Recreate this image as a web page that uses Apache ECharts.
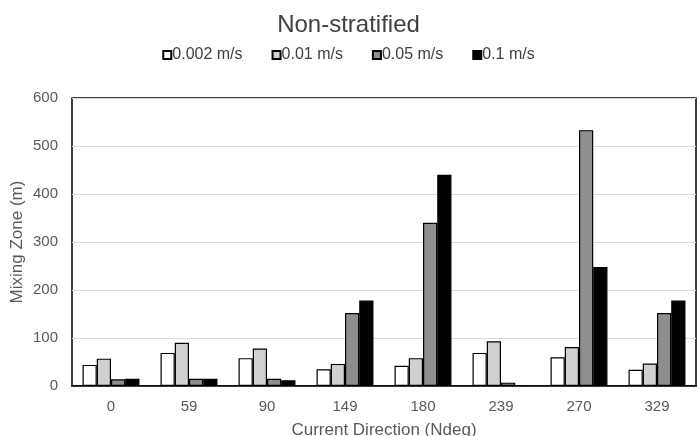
<!DOCTYPE html>
<html><head><meta charset="utf-8">
<script src="https://cdn.jsdelivr.net/npm/echarts@6/dist/echarts.min.js"></script>
<style>html,body{margin:0;padding:0;background:#fff}#c{width:697px;height:436px}</style>
</head><body><div id="c"></div>
<script>
const categories = ['0','59','90','149','180','239','270','329'];
const s002 = [44, 69, 58, 35, 42, 69, 60, 34];
const s01 = [57, 90, 78, 46, 58, 93, 81, 47];
const s05 = [14, 15, 15, 152, 340, 7, 533, 152];
const s1 = [15, 15, 12, 178, 440, 2, 248, 178];
const seriesNames = ['0.002 m/s','0.01 m/s','0.05 m/s','0.1 m/s'];
const colors = ['#ffffff','#d0d0d0','#8e8e8e','#000000'];
const yTicks = [0,100,200,300,400,500,600];

const chart = echarts.init(document.getElementById('c'));
const data = [s002, s01, s05, s1];
const FF = 'Liberation Sans, Arial';
chart.setOption({
  animation:false,
  backgroundColor:'#fff',
  title:{text:'Non-stratified',left:'center',top:8,textStyle:{fontFamily:FF,fontSize:24,fontWeight:'normal',color:'#404040'}},
  legend:{top:42,left:'center',itemWidth:8,itemHeight:8,itemGap:29,
    textStyle:{fontFamily:FF,fontSize:16,color:'#404040',padding:[0,0,0,-4]},
    data:seriesNames.map(n=>({name:n,icon:'rect'}))},
  grid:{left:72,right:1,top:98,bottom:50,show:true,borderColor:'#000',borderWidth:1.5,backgroundColor:'transparent',outerBoundsMode:'none',containLabel:false},
  xAxis:{type:'category',data:categories,
    axisLine:{lineStyle:{color:'#000',width:1.5}},axisTick:{show:false},
    axisLabel:{fontFamily:FF,fontSize:15,color:'#595959',margin:13},
    name:'Current Direction (Ndeg)',nameLocation:'middle',nameGap:36,nameMoveOverlap:false,
    nameTextStyle:{fontFamily:FF,fontSize:17,color:'#595959'}},
  yAxis:{type:'value',min:yTicks[0],max:yTicks[yTicks.length-1],interval:100,
    axisLine:{show:false},axisTick:{show:false},
    splitLine:{lineStyle:{color:'#d9d9d9',width:1}},
    axisLabel:{fontFamily:FF,fontSize:15,color:'#595959',margin:14},
    name:'Mixing Zone (m)',nameLocation:'middle',nameGap:46,nameRotate:90,nameMoveOverlap:false,
    nameTextStyle:{fontFamily:FF,fontSize:17,color:'#595959'}},
  series:seriesNames.map((n,i)=>({
    name:n,type:'bar',data:data[i],barGap:'0%',barCategoryGap:'27%',
    itemStyle:{color:colors[i],borderColor:'#000',borderWidth:1.2}
  }))
});
</script></body></html>
